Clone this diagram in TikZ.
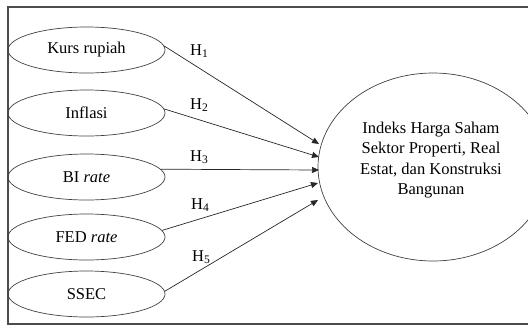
\documentclass[tikz,border=0pt]{standalone}
\usepackage{fontspec}
\setmainfont{Liberation Serif}
\usetikzlibrary{shapes.geometric,arrows.meta}
\tikzset{
  var/.style={ellipse,draw=black!75,line width=0.7pt,minimum width=157pt,minimum height=46pt,inner sep=0pt,
    font=\fontsize{16.5}{20}\selectfont},
  bigvar/.style={ellipse,draw=black!75,line width=0.7pt,minimum width=230pt,minimum height=188pt,inner sep=0pt},
  hyp/.style={anchor=base west,inner sep=0pt,font=\fontsize{16.5}{20}\selectfont},
  link/.style={draw=black!85,line width=0.7pt,-{Triangle[length=7pt,width=6pt]}},
  frame/.style={draw=black!70,line width=1.1pt}
}
\begin{document}
\begin{tikzpicture}[x=1pt,y=-1pt]
\useasboundingbox (0,0) rectangle (528,327);
\clip (0,0) rectangle (528,327);
\draw[frame] (530,7) -- (8,7) -- (8,324) -- (530,324);
\node[var] (kurs) at (86.5,50) {Kurs rupiah};
\node[var] (inf) at (86.5,113) {Inflasi};
\node[var] (bi) at (86.5,177) {BI \textit{rate}};
\node[var] (fed) at (86.5,237) {FED \textit{rate}};
\node[var] (ssec) at (86.5,294) {SSEC};
\node[bigvar] (dep) at (433,167) {};
\node[align=center,inner sep=0pt,font=\fontsize{16.5}{20.5}\selectfont] (deptext) at (431,160)
  {Indeks Harga Saham\\Sektor Properti, Real\\Estat, dan Konstruksi\\Bangunan};
\coordinate (t1) at (319,144);
\coordinate (t2) at (319,157);
\coordinate (t3) at (319,170);
\coordinate (t4) at (318,183);
\coordinate (t5) at (318,200);
\draw[link] (kurs.3) -- (t1);
\draw[link] (inf.3) -- (t2);
\draw[link] (bi.6) -- (t3);
\draw[link] (fed.5) -- (t4);
\draw[link] (ssec.2) -- (t5);
\node[hyp] (h1) at (190,55) {H\textsubscript{1}};
\node[hyp] (h2) at (190,109) {H\textsubscript{2}};
\node[hyp] (h3) at (190,161) {H\textsubscript{3}};
\node[hyp] (h4) at (191,209) {H\textsubscript{4}};
\node[hyp] (h5) at (192,261) {H\textsubscript{5}};
\end{tikzpicture}
\end{document}
